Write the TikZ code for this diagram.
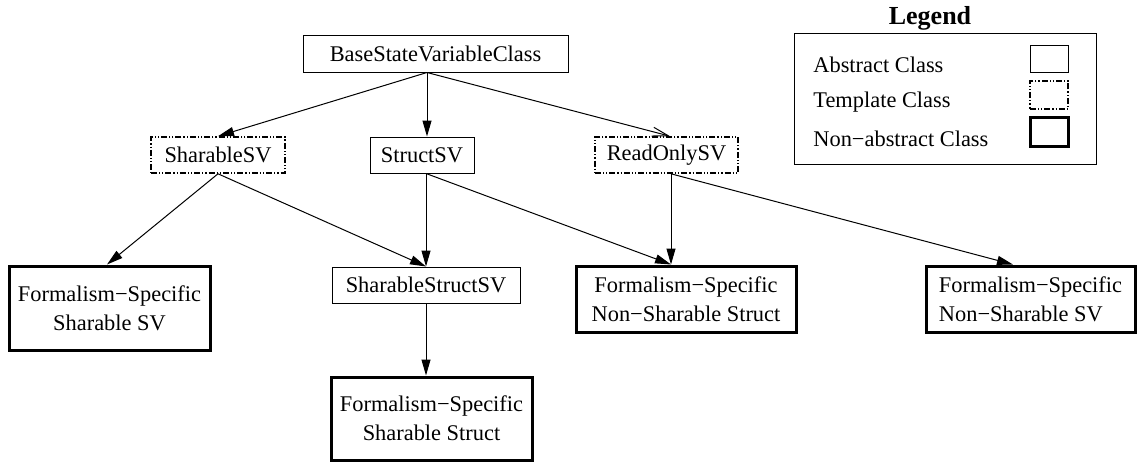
\documentclass[tikz,border=0pt]{standalone}
\usepackage{fontspec}
\setmainfont{Liberation Serif}
\usetikzlibrary{arrows.meta}
\begin{document}
\begin{tikzpicture}[x=0.5pt,y=-0.5pt,
  every node/.style={font=\fontsize{11.2pt}{14.5pt}\selectfont, inner sep=0pt, align=center},
  abstractbox/.style={draw, line width=0.5pt},
  templatebox/.style={draw, line width=0.8pt,
    dash pattern=on 3pt off 1pt on 0.6pt off 1pt on 0.6pt off 1pt},
  concretebox/.style={draw, line width=1.5pt},
  link/.style={line width=0.5pt, -{Triangle[length=8pt,width=4.5pt]}},
  openlink/.style={line width=0.5pt, -{Straight Barb[length=8pt,width=4.5pt,line width=0.5pt]}}
]
\useasboundingbox (0,0) rectangle (1140,461);

% class hierarchy
\node[abstractbox, minimum width=132.5pt, minimum height=18.5pt] (bsv) at (435.5,53.5) {BaseStateVariableClass};
\node[templatebox, minimum width=67pt, minimum height=18pt] (ssv) at (218,155) {SharableSV};
\node[abstractbox, minimum width=52pt, minimum height=18pt] (stsv) at (422,155) {StructSV};
\node[templatebox, minimum width=71.5pt, minimum height=18pt] (rosv) at (666.5,155) {ReadOnlySV};
\node[concretebox, minimum width=100.5pt, minimum height=42pt] (fssv) at (109.5,308) {Formalism−Specific\\Sharable SV};
\node[abstractbox, minimum width=94pt, minimum height=18pt] (sssv) at (426,285) {SharableStructSV};
\node[concretebox, minimum width=100.5pt, minimum height=41.5pt] (fss) at (431.5,418.5) {Formalism−Specific\\Sharable Struct};
\node[concretebox, minimum width=110pt, minimum height=33pt] (fnst) at (686,299) {Formalism−Specific\\Non−Sharable Struct};
\node[concretebox, minimum width=104.5pt, minimum height=33pt, align=left] (fnsv) at (1030.5,299) {Formalism−Specific\\Non−Sharable SV};

% inheritance arrows
\draw[link] ([xshift=-4.25pt]bsv.south) -- (ssv.north);
\draw[link] ([xshift=-4.25pt]bsv.south) -- ([xshift=2.5pt]stsv.north);
\draw[openlink] ([xshift=-4.25pt]bsv.south) -- ([xshift=1.75pt]rosv.north);
\draw[link] (ssv.south) -- ([xshift=-1.25pt]fssv.north);
\draw[link] (ssv.south) -- (sssv.north);
\draw[link] ([xshift=2pt]stsv.south) -- (sssv.north);
\draw[link] ([xshift=2pt]stsv.south) -- ([xshift=-7.5pt]fnst.north);
\draw[link] ([xshift=2.25pt]rosv.south) -- ([xshift=-7.5pt]fnst.north);
\draw[link] ([xshift=2.25pt]rosv.south) -- ([xshift=-8.75pt]fnsv.north);
\draw[link] (sssv.south) -- ([xshift=-2.75pt]fss.north);

% legend
\node[font=\fontsize{13pt}{15pt}\selectfont\bfseries] (legtitle) at (930,18) {Legend};
\node[abstractbox, minimum width=151pt, minimum height=65.5pt] (legbox) at (945,98.5) {};
\node[anchor=west] (labs) at (813,65) {Abstract Class};
\node[anchor=west] (ltmp) at (813,102) {Template Class};
\node[anchor=west] (lcon) at (813,139) {Non−abstract Class};
\node[abstractbox, minimum width=19pt, minimum height=13.5pt] (sabs) at (1049,58.5) {};
\node[templatebox, minimum width=19pt, minimum height=14pt] (stmp) at (1049,95) {};
\node[concretebox, minimum width=19pt, minimum height=14.5pt] (scon) at (1049,132) {};
\end{tikzpicture}
\end{document}
